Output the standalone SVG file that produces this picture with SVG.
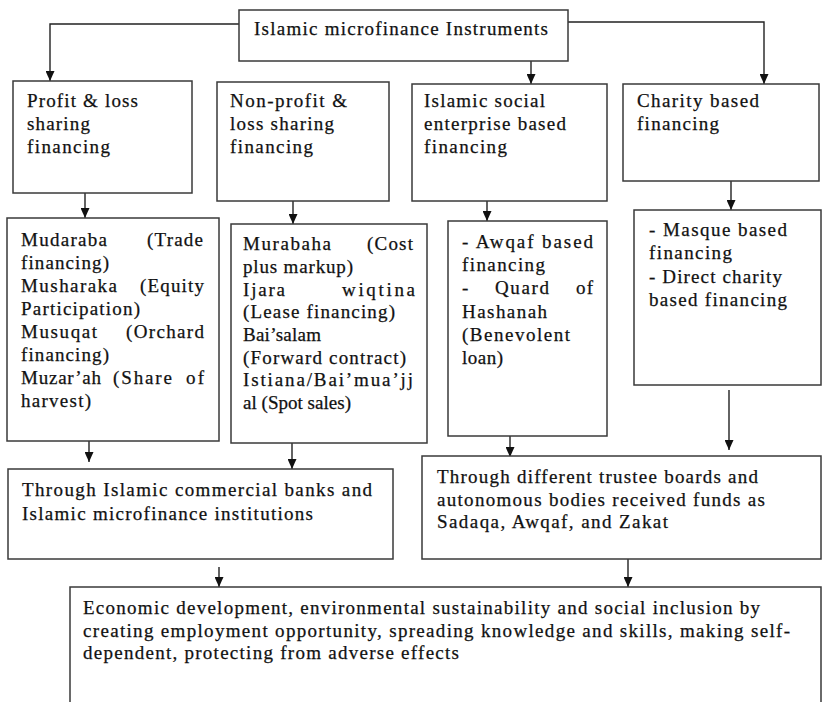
<svg xmlns="http://www.w3.org/2000/svg" width="823" height="702" viewBox="0 0 823 702">
<defs>
<style>
.box{fill:#fff;stroke:#3a3a3a;stroke-width:1.5}
.t{font-family:"Liberation Serif","Times New Roman",serif;font-size:19px;fill:#111;stroke:#111;stroke-width:0.25}
.c{fill:none;stroke:#222;stroke-width:1.4}
</style>
<marker id="ah" markerUnits="userSpaceOnUse" markerWidth="10" markerHeight="9" refX="10" refY="4.5" orient="auto">
<path d="M0,0 L10,4.5 L0,9 z" fill="#111"/>
</marker>
</defs>
<rect width="823" height="702" fill="#fff"/>

<g id="connectors">
<path class="c" d="M239,24 H50 V81" marker-end="url(#ah)"/>
<path class="c" d="M568,22 H764 V84" marker-end="url(#ah)"/>
<path class="c" d="M531,61 V84" marker-end="url(#ah)"/>
<path class="c" d="M85,193 V218" marker-end="url(#ah)"/>
<path class="c" d="M293,201 V224" marker-end="url(#ah)"/>
<path class="c" d="M487,201 V221" marker-end="url(#ah)"/>
<path class="c" d="M731,181 V210" marker-end="url(#ah)"/>
<path class="c" d="M89,441 V462" marker-end="url(#ah)"/>
<path class="c" d="M292,443 V469" marker-end="url(#ah)"/>
<path class="c" d="M510,436 V457" marker-end="url(#ah)"/>
<path class="c" d="M729,390 V450" marker-end="url(#ah)"/>
<path class="c" d="M219,567 V587" marker-end="url(#ah)"/>
<path class="c" d="M628,559 V587" marker-end="url(#ah)"/>
</g>

<g id="n-top">
<rect class="box" x="239" y="10" width="329" height="51"/>
<text class="t" x="254" y="35" textLength="294" lengthAdjust="spacing">Islamic microfinance Instruments</text>
</g>

<g id="n-pls">
<rect class="box" x="13" y="81" width="179" height="112"/>
<text class="t" x="27" y="107" textLength="111" lengthAdjust="spacing">Profit &amp; loss</text>
<text class="t" x="27" y="130" textLength="63" lengthAdjust="spacing">sharing</text>
<text class="t" x="27" y="153" textLength="83" lengthAdjust="spacing">financing</text>
</g>

<g id="n-npls">
<rect class="box" x="217" y="82" width="172" height="119"/>
<text class="t" x="230" y="107" textLength="117" lengthAdjust="spacing">Non-profit &amp;</text>
<text class="t" x="230" y="130" textLength="104" lengthAdjust="spacing">loss sharing</text>
<text class="t" x="230" y="153" textLength="83" lengthAdjust="spacing">financing</text>
</g>

<g id="n-ise">
<rect class="box" x="412" y="84" width="195" height="117"/>
<text class="t" x="424" y="107" textLength="121" lengthAdjust="spacing">Islamic social</text>
<text class="t" x="424" y="130" textLength="142" lengthAdjust="spacing">enterprise based</text>
<text class="t" x="424" y="153" textLength="83" lengthAdjust="spacing">financing</text>
</g>

<g id="n-charity">
<rect class="box" x="623" y="84" width="196" height="97"/>
<text class="t" x="637" y="107" textLength="122" lengthAdjust="spacing">Charity based</text>
<text class="t" x="637" y="130" textLength="82" lengthAdjust="spacing">financing</text>
</g>

<g id="n-pls-list">
<rect class="box" x="7" y="218" width="212" height="223"/>
<text class="t" x="21" y="246" textLength="86" lengthAdjust="spacing">Mudaraba</text>
<text class="t" x="147" y="246" textLength="56" lengthAdjust="spacing">(Trade</text>
<text class="t" x="21" y="269" textLength="88" lengthAdjust="spacing">financing)</text>
<text class="t" x="21" y="292" textLength="96" lengthAdjust="spacing">Musharaka</text>
<text class="t" x="140" y="292" textLength="64" lengthAdjust="spacing">(Equity</text>
<text class="t" x="21" y="315" textLength="119" lengthAdjust="spacing">Participation)</text>
<text class="t" x="21" y="338" textLength="76" lengthAdjust="spacing">Musuqat</text>
<text class="t" x="126" y="338" textLength="78" lengthAdjust="spacing">(Orchard</text>
<text class="t" x="21" y="361" textLength="88" lengthAdjust="spacing">financing)</text>
<text class="t" x="21" y="384" textLength="80" lengthAdjust="spacing">Muzar’ah</text>
<text class="t" x="113" y="384" textLength="59" lengthAdjust="spacing">(Share</text>
<text class="t" x="186" y="384" textLength="18" lengthAdjust="spacing">of</text>
<text class="t" x="21" y="407" textLength="70" lengthAdjust="spacing">harvest)</text>
</g>

<g id="n-npls-list">
<rect class="box" x="231" y="224" width="196" height="219"/>
<text class="t" x="243" y="250" textLength="88" lengthAdjust="spacing">Murabaha</text>
<text class="t" x="367" y="250" textLength="46" lengthAdjust="spacing">(Cost</text>
<text class="t" x="243" y="273" textLength="110" lengthAdjust="spacing">plus markup)</text>
<text class="t" x="243" y="296" textLength="42" lengthAdjust="spacing">Ijara</text>
<text class="t" x="342" y="296" textLength="73" lengthAdjust="spacing">wiqtina</text>
<text class="t" x="243" y="318" textLength="152" lengthAdjust="spacing">(Lease financing)</text>
<text class="t" x="243" y="341" textLength="78" lengthAdjust="spacing">Bai’salam</text>
<text class="t" x="243" y="364" textLength="163" lengthAdjust="spacing">(Forward contract)</text>
<text class="t" x="243" y="386" textLength="170" lengthAdjust="spacing">Istiana/Bai’mua’jj</text>
<text class="t" x="243" y="409" textLength="108" lengthAdjust="spacing">al (Spot sales)</text>
</g>

<g id="n-ise-list">
<rect class="box" x="448" y="221" width="159" height="215"/>
<text class="t" x="462" y="248" textLength="131" lengthAdjust="spacing">- Awqaf based</text>
<text class="t" x="462" y="271" textLength="83" lengthAdjust="spacing">financing</text>
<text class="t" x="462" y="294">-</text>
<text class="t" x="495" y="294" textLength="54" lengthAdjust="spacing">Quard</text>
<text class="t" x="576" y="294" textLength="17" lengthAdjust="spacing">of</text>
<text class="t" x="462" y="318" textLength="85" lengthAdjust="spacing">Hashanah</text>
<text class="t" x="462" y="341" textLength="108" lengthAdjust="spacing">(Benevolent</text>
<text class="t" x="462" y="364" textLength="41" lengthAdjust="spacing">loan)</text>
</g>

<g id="n-charity-list">
<rect class="box" x="634" y="210" width="187" height="175"/>
<text class="t" x="649" y="236" textLength="138" lengthAdjust="spacing">- Masque based</text>
<text class="t" x="649" y="259" textLength="83" lengthAdjust="spacing">financing</text>
<text class="t" x="649" y="283" textLength="133" lengthAdjust="spacing">- Direct charity</text>
<text class="t" x="649" y="306" textLength="138" lengthAdjust="spacing">based financing</text>
</g>

<g id="n-banks">
<rect class="box" x="8" y="469" width="385" height="90"/>
<text class="t" x="22" y="496" textLength="350" lengthAdjust="spacing">Through Islamic commercial banks and</text>
<text class="t" x="22" y="520" textLength="291" lengthAdjust="spacing">Islamic microfinance institutions</text>
</g>

<g id="n-trustee">
<rect class="box" x="422" y="456" width="399" height="103"/>
<text class="t" x="437" y="483" textLength="321" lengthAdjust="spacing">Through different trustee boards and</text>
<text class="t" x="437" y="506" textLength="328" lengthAdjust="spacing">autonomous bodies received funds as</text>
<text class="t" x="437" y="528" textLength="231" lengthAdjust="spacing">Sadaqa, Awqaf, and Zakat</text>
</g>

<g id="n-outcome">
<path class="box" d="M70,704 V587 H821 V704"/>
<text class="t" x="83" y="614" textLength="677" lengthAdjust="spacing">Economic development, environmental sustainability and social inclusion by</text>
<text class="t" x="83" y="637" textLength="707" lengthAdjust="spacing">creating employment opportunity, spreading knowledge and skills, making self-</text>
<text class="t" x="83" y="659" textLength="376" lengthAdjust="spacing">dependent, protecting from adverse effects</text>
</g>
</svg>
